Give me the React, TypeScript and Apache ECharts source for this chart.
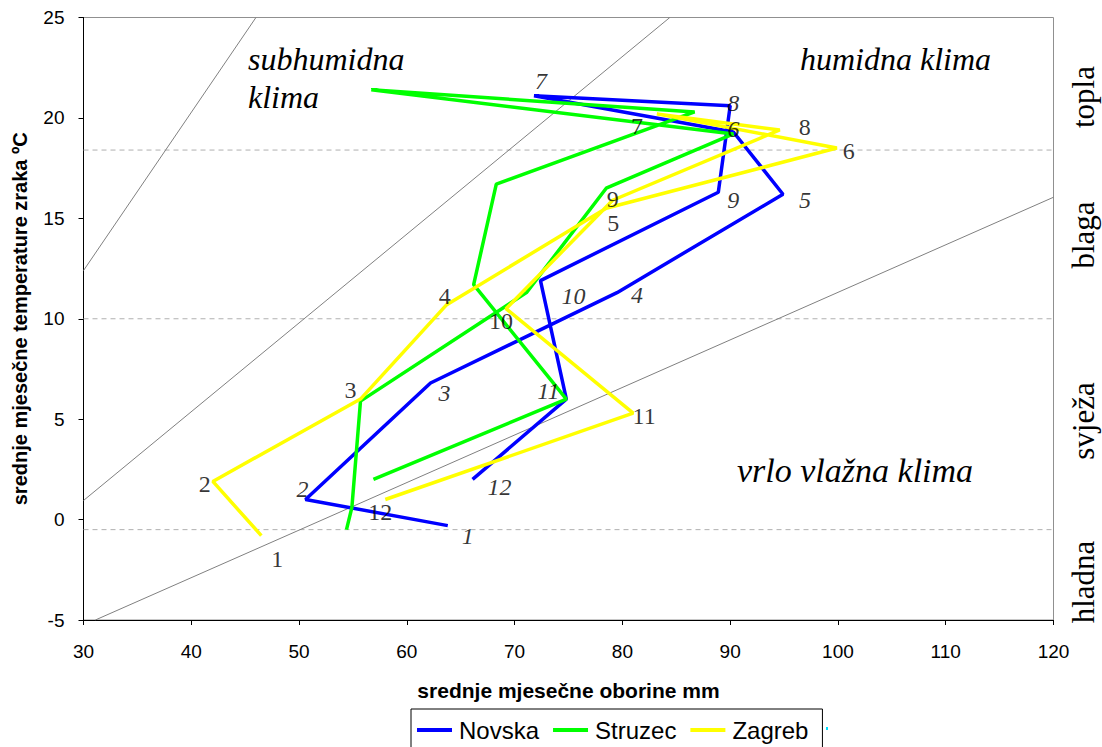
import React, { useEffect, useRef } from "react";
import * as echarts from "echarts";

// ---- data ----
const months = ["1", "2", "3", "4", "5", "6", "7", "8", "9", "10", "11", "12"];
const novskaP = [63.8, 50.6, 62.2, 79.5, 94.9, 90.3, 71.8, 90.0, 88.9, 72.4, 74.8, 66.1];
const novskaT = [-0.3, 1.0, 6.8, 11.3, 16.2, 19.3, 21.1, 20.6, 16.3, 11.9, 6.0, 2.0];
const struzecP = [54.4, 54.9, 55.7, 71.1, 78.5, 90.3, 56.7, 86.7, 68.3, 66.2, 74.8, 56.9];
const struzecT = [-0.5, 0.6, 5.9, 11.3, 16.5, 19.2, 21.4, 20.3, 16.7, 11.7, 6.0, 2.0];
const zagrebP = [46.5, 42.0, 55.7, 63.7, 78.5, 99.9, 83.2, 94.6, 79.1, 69.2, 81.0, 58.0];
const zagrebT = [-0.8, 1.9, 6.0, 10.7, 15.5, 18.5, 20.2, 19.4, 15.9, 10.5, 5.3, 1.0];

// climate boundary lines (precipitation/temperature endpoints)
const subhumidLineP = [30, 46];
const subhumidLineT = [12.4, 25];
const humidLineP = [30, 84.4];
const humidLineT = [0.95, 25];
const wetLineP = [31.1, 120];
const wetLineT = [-5, 16.05];

// thermal class boundaries
const thermalBounds = [18.4, 10, -0.5];
const thermalBoundsP = [30, 123.1];

const xTicks = { min: 30, max: 120, interval: 10 };
const yTicks = { min: -5, max: 25, interval: 5 };

// label offsets (px), styling only
const novskaLabelOffsets = [[20, 10], [-3, -11], [14, 10], [20, 2], [22, 6], [0, -3], [7, -15], [3, -3], [15, 8], [33, 15], [-18, -8], [27, 8]];
const zagrebLabelOffsets = [[16, 23], [-8, 3], [-10, -9], [-2, -9], [7, 15], [12, 3], [-20, 12], [25, -3], [0, -1], [-5, 12], [11, 3], [-5, 12]];

const SANS = "'Liberation Sans', Arial, sans-serif";
const SERIF = "'Liberation Serif', 'Times New Roman', serif";

function pairs(p: number[], t: number[]) {
  return p.map((v, i) => [v, t[i]]);
}

export default function App() {
  const ref = useRef<HTMLDivElement>(null);
  useEffect(() => {
    if (!ref.current) return;
    const chart = echarts.init(ref.current, null, { renderer: "svg" });

    const lineSeries = (name: string, p: number[], t: number[], color: string) => ({
      name,
      type: "line",
      data: pairs(p, t),
      symbol: "none",
      lineStyle: { color, width: 3.5 },
      itemStyle: { color },
      z: 5,
    });

    const labelSeries = (p: number[], t: number[], offs: number[][], italic: boolean) => ({
      type: "scatter",
      silent: true,
      symbolSize: 2,
      itemStyle: { color: "rgba(0,0,0,0)" },
      z: 8,
      data: p.map((v, i) => ({
        value: [v, t[i]],
        label: {
          show: true,
          position: "inside",
          offset: offs[i],
          formatter: months[i],
          fontFamily: SERIF,
          fontStyle: italic ? "italic" : "normal",
          fontSize: 24,
          color: "#000",
        },
      })),
    });

    const grayLine = (p: number[], t: number[]) => ({
      type: "line",
      data: pairs(p, t),
      symbol: "none",
      silent: true,
      lineStyle: { color: "#808080", width: 1 },
      z: 2,
    });

    const dashLines = thermalBounds.map((b) => ({
      type: "line",
      data: thermalBoundsP.map((p) => [p, b]),
      symbol: "none",
      silent: true,
      clip: false,
      lineStyle: { color: "#b0b0b0", width: 1, type: [5, 4] },
      z: 1,
    }));

    const italic32 = `italic 32px ${SERIF}`;
    const side = (text: string, y: number) => ({
      type: "text",
      x: 1083,
      y,
      rotation: Math.PI / 2,
      style: { text, font: `31px ${SERIF}`, fill: "#000", align: "center", verticalAlign: "middle" },
    });

    const option: any = {
      animation: false,
      backgroundColor: "#fff",
      grid: {
        left: 83.5,
        right: 48.5,
        top: 17.5,
        bottom: 127,
        show: true,
        borderColor: "#909090",
        borderWidth: 1,
      },
      xAxis: {
        type: "value",
        min: xTicks.min,
        max: xTicks.max,
        interval: xTicks.interval,
        name: "srednje mjesečne oborine mm",
        nameLocation: "middle",
        nameGap: 60,
        nameTextStyle: { fontFamily: SANS, fontWeight: "bold", fontSize: 21, color: "#000" },
        axisLine: { show: true, onZero: false, lineStyle: { color: "#000", width: 1 } },
        axisTick: { show: true, length: 5, lineStyle: { color: "#000" } },
        axisLabel: { fontFamily: SANS, fontSize: 19, color: "#000", margin: 22 },
        splitLine: { show: false },
      },
      yAxis: {
        type: "value",
        min: yTicks.min,
        max: yTicks.max,
        interval: yTicks.interval,
        name: "srednje mjesečne temperature zraka ºC",
        nameLocation: "middle",
        nameGap: 54,
        nameRotate: 90,
        nameTextStyle: { fontFamily: SANS, fontWeight: "bold", fontSize: 20, color: "#000" },
        axisLine: { show: true, onZero: false, lineStyle: { color: "#000", width: 1 } },
        axisTick: { show: true, length: 5, lineStyle: { color: "#000" } },
        axisLabel: { fontFamily: SANS, fontSize: 19, color: "#000", margin: 19 },
        splitLine: { show: false },
      },
      legend: {
        data: ["Novska", "Struzec", "Zagreb"],
        left: 411,
        top: 709,
        orient: "horizontal",
        icon: "rect",
        padding: [9, 14, 30, 6],
        itemWidth: 35,
        itemHeight: 4,
        itemGap: 14,
        borderColor: "#000",
        borderWidth: 1,
        textStyle: { fontFamily: SANS, fontSize: 24, color: "#000", padding: [0, 0, 0, 2] },
      },
      graphic: [
        { type: "text", left: 248, top: 43, style: { text: "subhumidna", font: italic32, fill: "#000" } },
        { type: "text", left: 248, top: 81, style: { text: "klima", font: italic32, fill: "#000" } },
        { type: "text", left: 800, top: 43, style: { text: "humidna klima", font: italic32, fill: "#000" } },
        { type: "text", left: 737, top: 453, style: { text: "vrlo vlažna klima", font: `italic 34px ${SERIF}`, fill: "#000" } },
        side("topla", 97),
        side("blaga", 235),
        side("svježa", 421),
        side("hladna", 582),
        { type: "rect", shape: { x: 826, y: 727, width: 2, height: 3 }, style: { fill: "#00e0ff" } },
      ],
      series: [
        ...dashLines,
        grayLine(subhumidLineP, subhumidLineT),
        grayLine(humidLineP, humidLineT),
        grayLine(wetLineP, wetLineT),
        lineSeries("Novska", novskaP, novskaT, "#0000ff"),
        lineSeries("Struzec", struzecP, struzecT, "#00ff00"),
        lineSeries("Zagreb", zagrebP, zagrebT, "#ffff00"),
        labelSeries(novskaP, novskaT, novskaLabelOffsets, true),
        labelSeries(zagrebP, zagrebT, zagrebLabelOffsets, false),
      ],
    };
    chart.setOption(option);
    return () => chart.dispose();
  }, []);

  return (
    <div
      ref={ref}
      style={{ position: "fixed", left: 0, top: 0, width: 1102, height: 747, background: "#fff" }}
    />
  );
}
